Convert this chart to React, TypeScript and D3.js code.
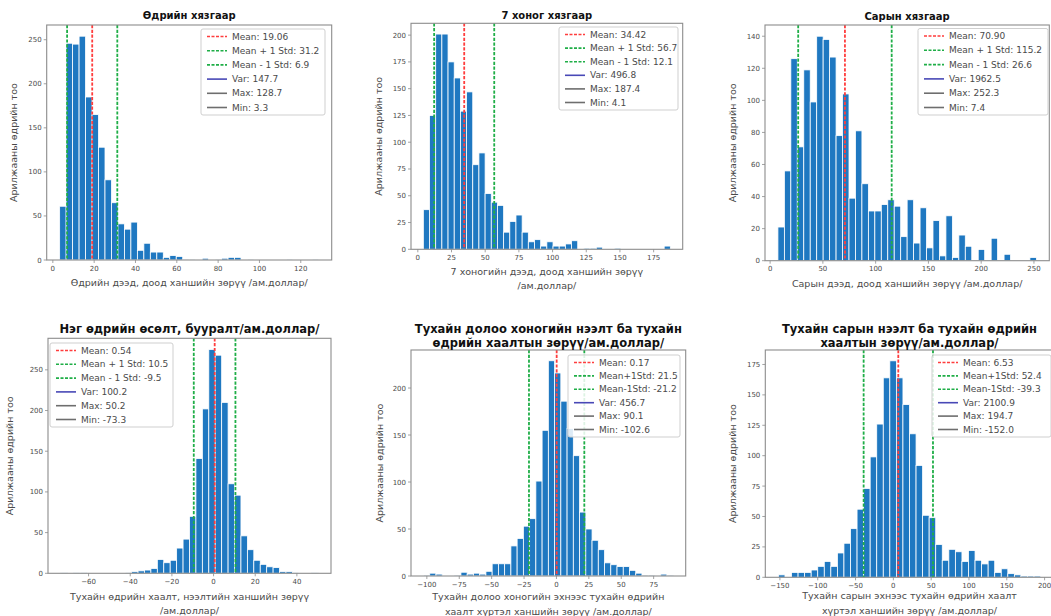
import React from "react";
import * as d3 from "d3";

// ---------- DATA ----------
const dailyCounts = [61, 246, 245, 254, 185, 165, 128, 91, 65, 41, 35, 43, 11, 19, 9, 9, 3, 5, 4, 1, 1, 0, 2, 0, 1, 2, 3, 3, 0, 1, 0, 0, 0, 0, 0, 1, 0, 0, 0, 1];
const dailyRange = [3.3, 128.7];
const dailyLines = [19.06, 31.2, 6.9];
const dailyLegend = ["Mean: 19.06", "Mean + 1 Std: 31.2", "Mean - 1 Std: 6.9", "Var: 147.7", "Max: 128.7", "Min: 3.3"];
const dailyXTicks = [0, 20, 40, 60, 80, 100, 120];
const dailyYTicks = [0, 50, 100, 150, 200, 250];

const weeklyCounts = [37, 125, 201, 201, 175, 160, 129, 147, 79, 90, 52, 44, 41, 16, 26, 32, 16, 7, 9, 3, 7, 3, 3, 5, 8, 0, 1, 1, 2, 0, 0, 1, 0, 0, 0, 0, 0, 0, 0, 3];
const weeklyRange = [4.1, 187.4];
const weeklyLines = [34.42, 56.7, 12.1];
const weeklyLegend = ["Mean: 34.42", "Mean + 1 Std: 56.7", "Mean - 1 Std: 12.1", "Var: 496.8", "Max: 187.4", "Min: 4.1"];
const weeklyXTicks = [0, 25, 50, 75, 100, 125, 150, 175];
const weeklyYTicks = [0, 25, 50, 75, 100, 125, 150, 175, 200];

const monthlyCounts = [21, 56, 126, 71, 119, 99, 140, 138, 127, 78, 104, 39, 81, 48, 31, 31, 35, 38, 34, 15, 38, 11, 33, 8, 25, 3, 28, 2, 16, 9, 0, 7, 0, 14, 0, 4, 0, 0, 0, 2];
const monthlyRange = [7.4, 252.3];
const monthlyLines = [70.9, 115.2, 26.6];
const monthlyLegend = ["Mean: 70.90", "Mean + 1 Std: 115.2", "Mean - 1 Std: 26.6", "Var: 1962.5", "Max: 252.3", "Min: 7.4"];
const monthlyXTicks = [0, 50, 100, 150, 200, 250];
const monthlyYTicks = [0, 20, 40, 60, 80, 100, 120, 140];

const dayChangeCounts = [1, 0, 1, 1, 0, 0, 0, 0, 0, 0, 1, 2, 3, 4, 6, 17, 13, 16, 31, 42, 70, 141, 202, 275, 268, 210, 110, 96, 46, 29, 16, 11, 8, 7, 2, 2, 1, 0, 0, 1];
const dayChangeRange = [-73.3, 50.2];
const dayChangeLines = [0.54, 10.5, -9.5];
const dayChangeLegend = ["Mean: 0.54", "Mean + 1 Std: 10.5", "Mean - 1 Std: -9.5", "Var: 100.2", "Max: 50.2", "Min: -73.3"];
const dayChangeXTicks = [-60, -40, -20, 0, 20, 40];
const dayChangeYTicks = [0, 50, 100, 150, 200, 250];

const weekOpenCounts = [1, 3, 2, 0, 0, 1, 4, 2, 3, 2, 5, 13, 13, 13, 32, 40, 53, 61, 101, 155, 229, 216, 186, 157, 128, 68, 50, 38, 28, 14, 12, 10, 10, 6, 3, 1, 1, 0, 2, 1];
const weekOpenRange = [-102.6, 90.1];
const weekOpenLines = [0.17, 21.5, -21.2];
const weekOpenLegend = ["Mean: 0.17", "Mean+1Std: 21.5", "Mean-1Std: -21.2", "Var: 456.7", "Max: 90.1", "Min: -102.6"];
const weekOpenXTicks = [-100, -75, -50, -25, 0, 25, 50, 75];
const weekOpenYTicks = [0, 50, 100, 150, 200];

const monthOpenCounts = [2, 0, 4, 4, 4, 6, 9, 13, 9, 20, 28, 40, 56, 73, 99, 126, 164, 178, 164, 142, 118, 92, 51, 49, 27, 14, 23, 21, 13, 22, 14, 11, 14, 4, 7, 3, 2, 1, 1, 1];
const monthOpenRange = [-152.0, 194.7];
const monthOpenLines = [6.53, 52.4, -39.3];
const monthOpenLegend = ["Mean: 6.53", "Mean+1Std: 52.4", "Mean-1Std: -39.3", "Var: 2100.9", "Max: 194.7", "Min: -152.0"];
const monthOpenXTicks = [-150, -100, -50, 0, 50, 100, 150, 200];
const monthOpenYTicks = [0, 25, 50, 75, 100, 125, 150, 175];

const yLabelText = "Арилжааны өдрийн тоо";

// ---------- STYLE ----------
const FONT = "DejaVu Sans, Verdana, sans-serif";
const BAR = "#1f78c1";
const RED = "#ff3d3d";
const GREEN = "#1fae47";
const VAR = "#4848b6";
const GREY = "#6e6e6e";
const SPINE = "#8c8c8c";
const TXT = "#4a4a4a";

type PanelProps = {
  counts: number[];
  range: number[];
  lines: number[];
  legend: string[];
  xTicks: number[];
  yTicks: number[];
  title: string[];
  titleY: number[];
  titleSize: number;
  xlabel: string[];
  xlabelY: number[];
  ylabelX: number;
  frame: number[]; // l r t b
  legendBox: number[]; // l t w h
};

function Panel(p: PanelProps) {
  const [l, r, t, b] = p.frame;
  const [mn, mx] = p.range;
  const span = mx - mn;
  const x = d3.scaleLinear().domain([mn - 0.05 * span, mx + 0.05 * span]).range([l, r]);
  const ymax = (d3.max(p.counts) as number) * 1.05;
  const y = d3.scaleLinear().domain([0, ymax]).range([b, t]);
  const bw = span / p.counts.length;
  const cx = (l + r) / 2;
  const cy = (t + b) / 2;
  const lineColors = [RED, GREEN, GREEN];
  const legendColors = [RED, GREEN, GREEN, VAR, GREY, GREY];
  const [ll, lt, lw, lh] = p.legendBox;
  const rowGap = (lh - 15) / 5;
  return (
    <g>
      {p.counts.map((c, i) =>
        c > 0 ? (
          <rect
            key={i}
            x={x(mn + i * bw)}
            width={x(mn + (i + 1) * bw) - x(mn + i * bw)}
            y={y(c)}
            height={b - y(c)}
            fill={BAR}
            stroke="#ffffff"
            strokeWidth={0.8}
          />
        ) : null
      )}
      {p.lines.map((v, i) => (
        <line key={i} x1={x(v)} x2={x(v)} y1={t} y2={b} stroke={lineColors[i]} strokeWidth={1.8} strokeDasharray="3.2,1.6" />
      ))}
      <rect x={l} y={t} width={r - l} height={b - t} fill="none" stroke={SPINE} strokeWidth={1.1} />
      {p.xTicks.map((v) => (
        <g key={"x" + v}>
          <line x1={x(v)} x2={x(v)} y1={b} y2={b + 3} stroke={SPINE} strokeWidth={0.8} />
          <text x={x(v)} y={b + 10.5} fontSize={7} fill={TXT} textAnchor="middle" fontFamily={FONT}>
            {v < 0 ? "\u2212" + Math.abs(v) : v}
          </text>
        </g>
      ))}
      {p.yTicks.map((v) => (
        <g key={"y" + v}>
          <line x1={l - 3} x2={l} y1={y(v)} y2={y(v)} stroke={SPINE} strokeWidth={0.8} />
          <text x={l - 5} y={y(v) + 2.5} fontSize={7} fill={TXT} textAnchor="end" fontFamily={FONT}>
            {v}
          </text>
        </g>
      ))}
      {p.title.map((s, i) => (
        <text key={"t" + i} x={cx} y={p.titleY[i]} fontSize={p.titleSize} fontWeight="bold" fill="#111" textAnchor="middle" dominantBaseline="central" fontFamily={FONT}>
          {s}
        </text>
      ))}
      {p.xlabel.map((s, i) => (
        <text key={"xl" + i} x={cx} y={p.xlabelY[i]} fontSize={9.5} fill={TXT} textAnchor="middle" dominantBaseline="central" fontFamily={FONT}>
          {s}
        </text>
      ))}
      <text
        x={p.ylabelX}
        y={cy}
        fontSize={9.5}
        fill={TXT}
        textAnchor="middle"
        dominantBaseline="central"
        fontFamily={FONT}
        transform={`rotate(-90, ${p.ylabelX}, ${cy})`}
      >
        {yLabelText}
      </text>
      <rect x={ll} y={lt} width={lw} height={lh} rx={2} fill="#ffffff" fillOpacity={0.85} stroke="#cfcfcf" strokeWidth={1} />
      {p.legend.map((s, i) => {
        const ry = lt + 7.5 + i * rowGap;
        return (
          <g key={"lg" + i}>
            <line
              x1={ll + 6}
              x2={ll + 26}
              y1={ry}
              y2={ry}
              stroke={legendColors[i]}
              strokeWidth={i < 3 ? 1.6 : 1.6}
              strokeDasharray={i < 3 ? "3,1.5" : undefined}
            />
            <text x={ll + 31} y={ry} fontSize={9} fill={TXT} dominantBaseline="central" fontFamily={FONT}>
              {s}
            </text>
          </g>
        );
      })}
    </g>
  );
}

export default function App() {
  return (
    <svg
      width={1051}
      height={616}
      style={{ position: "absolute", left: 0, top: 0, background: "#fff" }}
    >
      <rect x={0} y={0} width={1051} height={616} fill="#fff" />
      <Panel
        counts={dailyCounts}
        range={dailyRange}
        lines={dailyLines}
        legend={dailyLegend}
        xTicks={dailyXTicks}
        yTicks={dailyYTicks}
        title={["Өдрийн хязгаар"]}
        titleY={[15]}
        titleSize={10}
        xlabel={["Өдрийн дээд, доод ханшийн зөрүү /ам.доллар/"]}
        xlabelY={[282]}
        ylabelX={13}
        frame={[46.7, 331.7, 25, 260]}
        legendBox={[201, 29, 124, 86]}
      />
      <Panel
        counts={weeklyCounts}
        range={weeklyRange}
        lines={weeklyLines}
        legend={weeklyLegend}
        xTicks={weeklyXTicks}
        yTicks={weeklyYTicks}
        title={["7 хоног хязгаар"]}
        titleY={[15]}
        titleSize={10}
        xlabel={["7 хоногийн дээд, доод ханшийн зөрүү", "/ам.доллар/"]}
        xlabelY={[271.5, 285]}
        ylabelX={379}
        frame={[411, 682.7, 23.3, 249.3]}
        legendBox={[559, 27, 119, 83]}
      />
      <Panel
        counts={monthlyCounts}
        range={monthlyRange}
        lines={monthlyLines}
        legend={monthlyLegend}
        xTicks={monthlyXTicks}
        yTicks={monthlyYTicks}
        title={["Сарын хязгаар"]}
        titleY={[16.5]}
        titleSize={10}
        xlabel={["Сарын дээд, доод ханшийн зөрүү /ам.доллар/"]}
        xlabelY={[283]}
        ylabelX={733}
        frame={[765, 1049.3, 25, 260.7]}
        legendBox={[918, 28.5, 130, 86.5]}
      />
      <Panel
        counts={dayChangeCounts}
        range={dayChangeRange}
        lines={dayChangeLines}
        legend={dayChangeLegend}
        xTicks={dayChangeXTicks}
        yTicks={dayChangeYTicks}
        title={["Нэг өдрийн өсөлт, бууралт/ам.доллар/"]}
        titleY={[329.3]}
        titleSize={11.5}
        xlabel={["Тухайн өдрийн хаалт, нээлтийн ханшийн зөрүү", "/ам.доллар/"]}
        xlabelY={[596.7, 610]}
        ylabelX={10}
        frame={[48, 331, 338.3, 573.3]}
        legendBox={[50, 343, 123, 84]}
      />
      <Panel
        counts={weekOpenCounts}
        range={weekOpenRange}
        lines={weekOpenLines}
        legend={weekOpenLegend}
        xTicks={weekOpenXTicks}
        yTicks={weekOpenYTicks}
        title={["Тухайн долоо хоногийн нээлт ба тухайн", "өдрийн хаалтын зөрүү/ам.доллар/"]}
        titleY={[329.3, 343.3]}
        titleSize={11.5}
        xlabel={["Тухайн долоо хоногийн эхнээс тухайн өдрийн", "хаалт хүртэл ханшийн зөрүү /ам.доллар/"]}
        xlabelY={[596.7, 611.5]}
        ylabelX={379}
        frame={[411, 685.7, 350, 576]}
        legendBox={[568, 355, 112, 82]}
      />
      <Panel
        counts={monthOpenCounts}
        range={monthOpenRange}
        lines={monthOpenLines}
        legend={monthOpenLegend}
        xTicks={monthOpenXTicks}
        yTicks={monthOpenYTicks}
        title={["Тухайн сарын нээлт ба тухайн өдрийн", "хаалтын зөрүү/ам.доллар/"]}
        titleY={[329.3, 343.3]}
        titleSize={11.5}
        xlabel={["Тухайн сарын эхнээс тухайн өдрийн хаалт", "хүртэл ханшийн зөрүү /ам.доллар/"]}
        xlabelY={[595, 610]}
        ylabelX={733}
        frame={[765.3, 1053.7, 350, 577.3]}
        legendBox={[932, 355, 119, 82]}
      />
    </svg>
  );
}
